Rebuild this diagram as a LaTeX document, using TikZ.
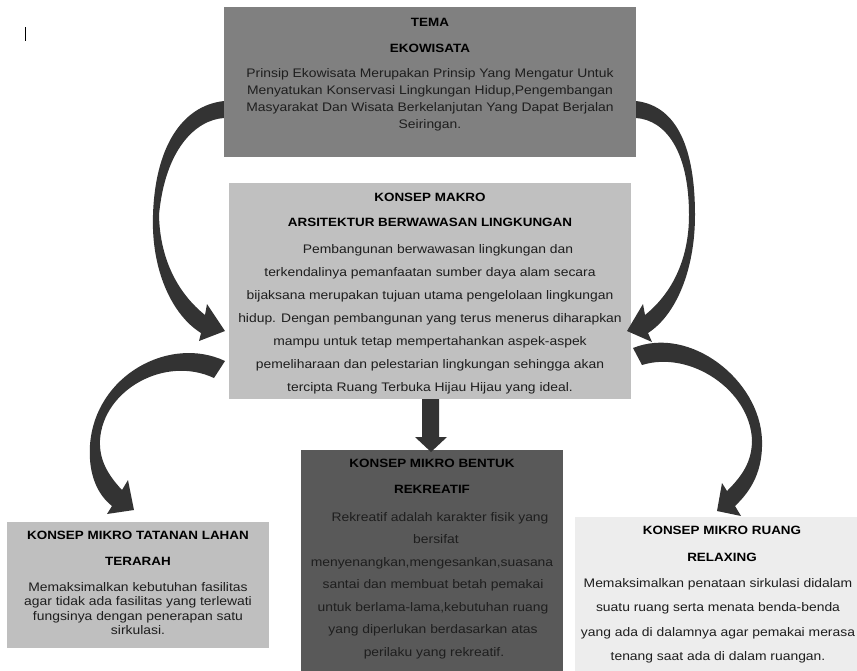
\documentclass[tikz,border=0pt]{standalone}
\usepackage{fontspec}
\setmainfont{Liberation Sans}[FakeStretch=1.12]
\definecolor{temafill}{HTML}{808080}
\definecolor{makrofill}{HTML}{C0C0C0}
\definecolor{lbfill}{HTML}{BFBFBF}
\definecolor{midfill}{HTML}{595959}
\definecolor{rfill}{HTML}{EDEDED}
\definecolor{arrowc}{HTML}{333333}
\definecolor{bodyc}{HTML}{1E1E1E}
\tikzset{
  boxshape/.style={draw=none, rectangle, inner sep=0pt, anchor=north west},
  ttl/.style={inner sep=0pt, anchor=base, font=\bfseries\fontsize{12}{14}\selectfont, text=black},
  bdy/.style={inner sep=0pt, anchor=base, font=\fontsize{12.4}{14}\selectfont, text=bodyc},
  blockarrow/.style={fill=arrowc, draw=none},
}
\begin{document}
\begin{tikzpicture}[x=1pt,y=-1pt]
\useasboundingbox (0,0) rectangle (857,670);

% boxes (except the top one)
\node[boxshape, fill=makrofill, minimum width=402pt, minimum height=216pt] (makro) at (229,183) {};
\node[boxshape, fill=lbfill, minimum width=262pt, minimum height=126pt] (lahan) at (7,522) {};
\node[boxshape, fill=midfill, minimum width=262pt, minimum height=222pt] (bentuk) at (301,450) {};
\node[boxshape, fill=rfill, minimum width=284pt, minimum height=155pt] (ruang) at (575,517) {};

% top-left curved arrow
\fill[blockarrow] (240,101) -- (224,101)
  .. controls (180,106) and (155,150) .. (153,215)
  .. controls (151,270) and (172,315) .. (201,333)
  -- (199,341) -- (225,331) -- (207,304) -- (205,315)
  .. controls (180,295) and (160,262) .. (159,215)
  .. controls (165,150) and (195,120) .. (224,118)
  -- (240,118) -- cycle;

% top-right curved arrow
\fill[blockarrow] (620,101) -- (636,101)
  .. controls (678,106) and (695,150) .. (695,215)
  .. controls (695,270) and (676,315) .. (648,333)
  -- (652,342) -- (627,331) -- (643,304) -- (645,315)
  .. controls (670,295) and (689,262) .. (689,215)
  .. controls (689,150) and (665,120) .. (636,118)
  -- (620,118) -- cycle;

% bottom-left curved arrow
\fill[blockarrow] (225,361)
  .. controls (170,335) and (95,375) .. (90,445)
  .. controls (88,475) and (98,495) .. (112,506)
  -- (107,514) -- (134,510) -- (128,480) -- (122,490)
  .. controls (108,475) and (99,460) .. (100,440)
  .. controls (103,390) and (165,355) .. (214,378)
  -- cycle;

% bottom-right curved arrow
\fill[blockarrow] (633,348)
  .. controls (690,325) and (760,380) .. (762,440)
  .. controls (763,470) and (752,490) .. (735,506)
  -- (741,516) -- (717,511) -- (722,483) -- (727,491)
  .. controls (742,476) and (752,462) .. (752,440)
  .. controls (750,390) and (690,350) .. (642,365)
  -- cycle;

% straight down arrow
\fill[blockarrow] (422,399) -- (439,399) -- (439,437) -- (447,437)
  -- (431,452) -- (415,437) -- (422,437) -- cycle;

% top box
\node[boxshape, fill=temafill, minimum width=412pt, minimum height=150pt] (tema) at (224,7) {};

% text cursor mark
\draw[line width=0.8pt, black] (25,27) -- (25,41);

% TEMA texts
\node[ttl] (temaT1) at (430,26.5) {TEMA};
\node[ttl] (temaT2) at (430,52.5) {EKOWISATA};
\node[bdy] (temaB1) at (430,77.5) {Prinsip Ekowisata Merupakan Prinsip Yang Mengatur Untuk};
\node[bdy] (temaB2) at (430,94.5) {Menyatukan Konservasi Lingkungan Hidup,Pengembangan};
\node[bdy] (temaB3) at (430,111.5) {Masyarakat Dan Wisata Berkelanjutan Yang Dapat Berjalan};
\node[bdy] (temaB4) at (430,128.5) {Seiringan.};

% MAKRO texts
\node[ttl] (makroT1) at (430,201.5) {KONSEP MAKRO};
\node[ttl] (makroT2) at (430,226.5) {ARSITEKTUR BERWAWASAN LINGKUNGAN};
\node[bdy] (makroB1) at (438,253) {Pembangunan berwawasan lingkungan dan};
\node[bdy] (makroB2) at (430,276) {terkendalinya pemanfaatan sumber daya alam secara};
\node[bdy] (makroB3) at (430,299) {bijaksana merupakan tujuan utama pengelolaan lingkungan};
\node[bdy] (makroB4) at (430,322) {hidup. Dengan pembangunan yang terus menerus diharapkan};
\node[bdy] (makroB5) at (430,345) {mampu untuk tetap mempertahankan aspek-aspek};
\node[bdy] (makroB6) at (430,368) {pemeliharaan dan pelestarian lingkungan sehingga akan};
\node[bdy] (makroB7) at (430,391) {tercipta Ruang Terbuka Hijau Hijau yang ideal.};

% TATANAN LAHAN texts
\node[ttl] (lahanT1) at (138,539.5) {KONSEP MIKRO TATANAN LAHAN};
\node[ttl] (lahanT2) at (138,565.5) {TERARAH};
\node[bdy] (lahanB1) at (138,591) {Memaksimalkan kebutuhan fasilitas};
\node[bdy] (lahanB2) at (138,605.5) {agar tidak ada fasilitas yang terlewati};
\node[bdy] (lahanB3) at (138,620) {fungsinya dengan penerapan satu};
\node[bdy] (lahanB4) at (138,634.5) {sirkulasi.};

% BENTUK REKREATIF texts
\node[ttl] (bentukT1) at (432,467.5) {KONSEP MIKRO BENTUK};
\node[ttl] (bentukT2) at (432,493.5) {REKREATIF};
\node[bdy] (bentukB1) at (440,521) {Rekreatif adalah karakter fisik yang};
\node[bdy] (bentukB2) at (436,543.5) {bersifat};
\node[bdy] (bentukB3) at (432,566) {menyenangkan,mengesankan,suasana};
\node[bdy] (bentukB4) at (433,588.5) {santai dan membuat betah pemakai};
\node[bdy] (bentukB5) at (433,611) {untuk berlama-lama,kebutuhan ruang};
\node[bdy] (bentukB6) at (433,633.5) {yang diperlukan berdasarkan atas};
\node[bdy] (bentukB7) at (434,656) {perilaku yang rekreatif.};

% RUANG RELAXING texts
\node[ttl] (ruangT1) at (722,534.5) {KONSEP MIKRO RUANG};
\node[ttl] (ruangT2) at (722,561.5) {RELAXING};
\node[bdy] (ruangB1) at (718,587) {Memaksimalkan penataan sirkulasi didalam};
\node[bdy] (ruangB2) at (718,611.5) {suatu ruang serta menata benda-benda};
\node[bdy] (ruangB3) at (718,636) {yang ada di dalamnya agar pemakai merasa};
\node[bdy] (ruangB4) at (718,660.5) {tenang saat ada di dalam ruangan.};
\end{tikzpicture}
\end{document}
